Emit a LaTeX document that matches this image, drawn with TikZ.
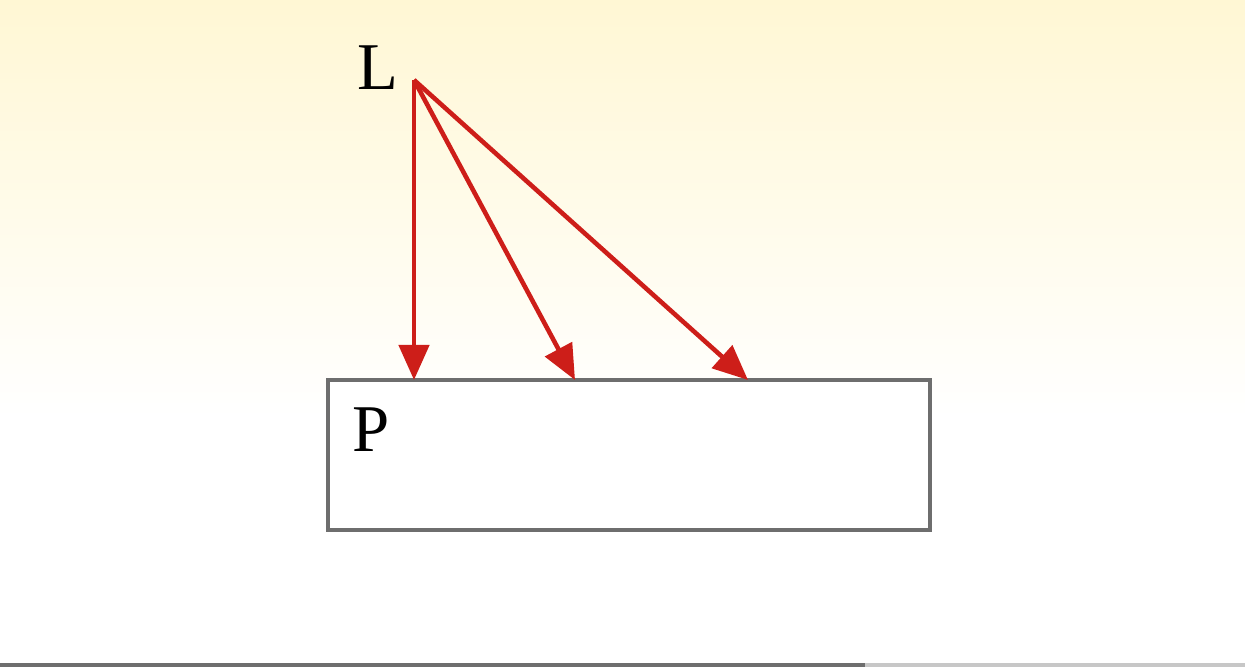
\documentclass[tikz,border=0pt]{standalone}
\usetikzlibrary{positioning,calc,arrows.meta}
\usepackage{xcolor}
\usepackage{fontspec}
\setmainfont{Liberation Serif}
\definecolor{paper}{RGB}{255,247,212}
\definecolor{ray}{RGB}{205,30,25}
\definecolor{frame}{RGB}{110,110,110}

\begin{document}
\begin{tikzpicture}[
    every node/.style={font=\fontsize{38}{42}\selectfont},
    plate/.style={
        draw=frame,
        line width=2.6pt,
        fill=white,
        minimum width=12.04cm,
        minimum height=3cm,
        inner sep=0pt
    },
    beam/.style={
        ray,
        line width=2.6pt,
        -{Triangle[length=0.7cm,width=0.6cm]}
    }
]

% background of the scan
\useasboundingbox (0,0) rectangle (24.9,13.34);
\fill[white] (0,0) rectangle (24.9,13.34);
\shade[top color=paper, bottom color=white] (0,5.0) rectangle (24.9,13.34);
\fill[frame] (0,0) rectangle (17.3,0.08);
\fill[black!22] (17.3,0) rectangle (24.9,0.08);

% plate and light source
\node[plate] (P) at (12.58,4.24) {};
\node[anchor=north west, inner sep=0pt] (plabel) at ($(P.north west)+(0.52,-0.6)$) {P};

\coordinate (src) at (8.28,11.74);
\node[left=0.3cm of src, anchor=east, inner sep=0pt, yshift=0.25cm] (llabel) {L};

\coordinate (hit1) at (8.28,5.74);
\coordinate (hit2) at (11.5,5.74);
\coordinate (hit3) at (14.96,5.74);

\draw[beam] (src) -- (hit1);
\draw[beam] (src) -- (hit2);
\draw[beam] (src) -- (hit3);

\end{tikzpicture}
\end{document}
